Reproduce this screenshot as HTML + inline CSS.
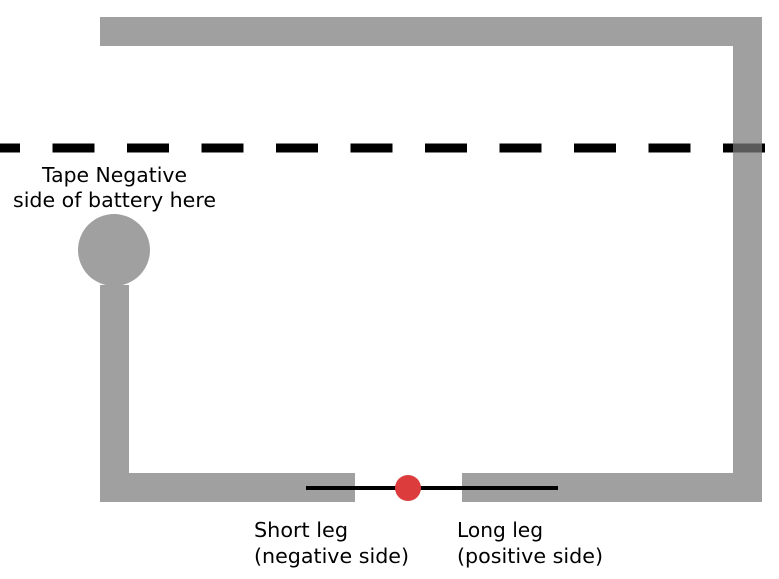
<!DOCTYPE html>
<html><head><meta charset="utf-8"><style>html,body{margin:0;padding:0;background:#fff}svg{display:block}</style></head>
<body>
<svg width="779" height="579" viewBox="0 0 779 579" xmlns="http://www.w3.org/2000/svg">
<rect x="0" y="0" width="779" height="579" fill="#fff"/>
<line x1="0" y1="148" x2="779" y2="148" stroke="#000" stroke-width="9" stroke-dasharray="42 32.5" stroke-dashoffset="22"/>
<rect x="100" y="17" width="662" height="29" fill="#a0a0a0"/>
<rect x="733" y="46" width="29" height="456" fill="#a0a0a0"/>
<rect x="733" y="143.5" width="29" height="9" fill="#5a5a5a"/>
<rect x="100" y="285" width="29" height="188" fill="#a0a0a0"/>
<rect x="100" y="473" width="255" height="29" fill="#a0a0a0"/>
<rect x="462" y="473" width="300" height="29" fill="#a0a0a0"/>
<circle cx="114" cy="250" r="36" fill="#a0a0a0"/>
<line x1="306" y1="488" x2="558" y2="488" stroke="#000" stroke-width="4"/>
<circle cx="408" cy="488" r="13" fill="#dc3c3c"/>
<g font-family="DejaVu Sans, Verdana, sans-serif" font-size="20.5" fill="#000">
<text x="42" y="182" textLength="145" lengthAdjust="spacingAndGlyphs">Tape Negative</text>
<text x="13" y="207" textLength="203" lengthAdjust="spacingAndGlyphs">side of battery here</text>
<text x="254" y="537" textLength="94" lengthAdjust="spacingAndGlyphs">Short leg</text>
<text x="254" y="563" textLength="155" lengthAdjust="spacingAndGlyphs">(negative side)</text>
<text x="457" y="537" textLength="86" lengthAdjust="spacingAndGlyphs">Long leg</text>
<text x="457" y="563" textLength="146" lengthAdjust="spacingAndGlyphs">(positive side)</text>
</g>
</svg>
</body></html>
